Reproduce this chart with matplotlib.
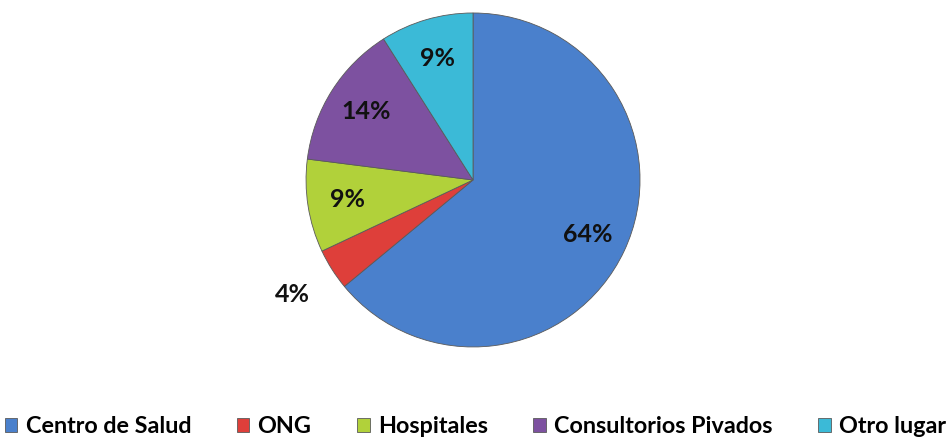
import numpy as np
import matplotlib
matplotlib.use("Agg")
import matplotlib.pyplot as plt

# data
categories = ["Centro de Salud", "ONG", "Hospitales", "Consultorios Pivados", "Otro lugar"]
values = [64, 4, 9, 14, 9]
colors = ["#4A80CC", "#DE3F3A", "#B1D13A", "#7D51A0", "#3BBAD7"]

plt.rcParams['font.family'] = ['Lato', 'DejaVu Sans']

fig = plt.figure(figsize=(9.51, 4.41), dpi=100)
ax = fig.add_axes([0.3218, 0.2132, 0.3512, 0.7574])

wedges, texts, autotexts = ax.pie(values, colors=colors, startangle=90, counterclock=False,
                                  autopct='%1.0f%%', pctdistance=0.76,
                                  wedgeprops=dict(edgecolor='#5a5a5a', linewidth=0.6),
                                  textprops=dict(fontsize=18, fontweight='bold', color='#111111'))
ax.set_aspect('equal')
ax.set_xlim(-1, 1)
ax.set_ylim(-1, 1)

# small slice label outside
w = wedges[1]
ang = np.deg2rad((w.theta1 + w.theta2) / 2)
autotexts[1].set_position((1.28 * np.cos(ang), 1.28 * np.sin(ang)))
autotexts[1].set_clip_on(False)

fig.legend(wedges, categories, loc='center', bbox_to_anchor=(0.5, 0.033), ncol=5,
           frameon=False, handlelength=0.55, handleheight=0.55, handletextpad=0.35,
           columnspacing=1.95, prop=dict(size=16.8, weight='bold'))

fig.savefig("out.png", dpi=100)
